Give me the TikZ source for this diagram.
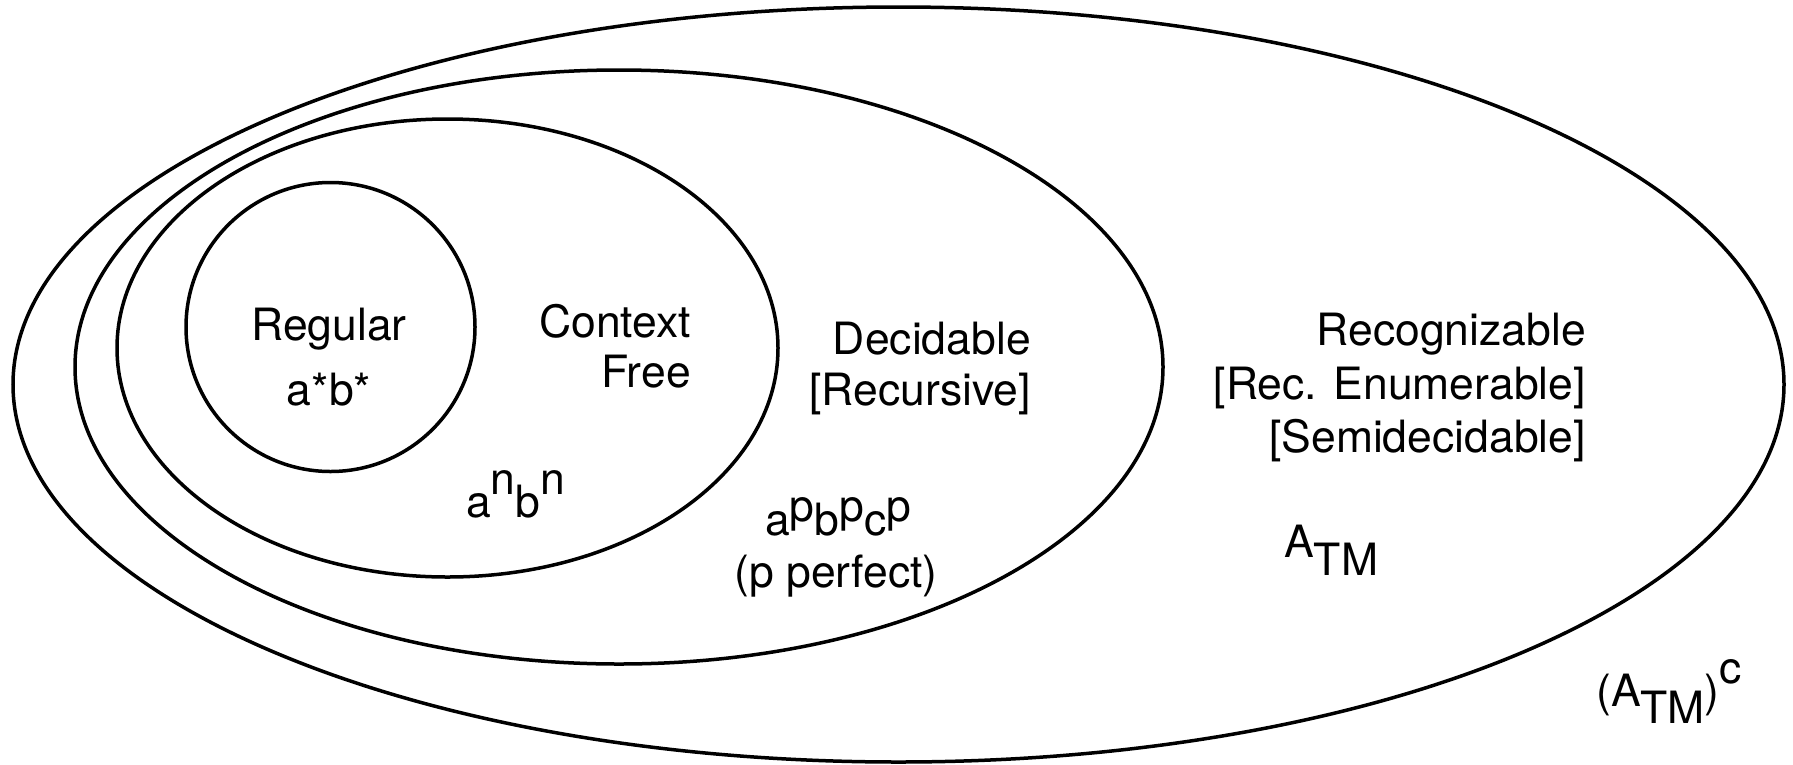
\documentclass[tikz,border=0pt]{standalone}
\usepackage{fontspec}
\setmainfont{TeX Gyre Heros}
\begin{document}
\begin{tikzpicture}[x=1pt,y=-1pt,
  setline/.style={line width=3.5pt},
  lbl/.style={inner sep=0pt,font=\fontsize{44.5}{52}\selectfont}]
\useasboundingbox (0,0) rectangle (1793,764);
% sets
\draw[setline] (898.5,384.5) ellipse [x radius=885.5, y radius=377.5];
\draw[setline] (619,367) ellipse [x radius=544, y radius=297];
\draw[setline] (447.5,348) ellipse [x radius=330.5, y radius=229];
\draw[setline] (330.5,327) circle [radius=144.5];
% labels
\node[lbl,anchor=base] (reg) at (329,340) {Regular};
\node[lbl,anchor=base] (reglang) at (329,405) {a*b*};
\node[lbl,anchor=base east] (cf1) at (691,337) {Context};
\node[lbl,anchor=base east] (cf2) at (691,387) {Free};
\node[lbl,anchor=base west] (cflang) at (466,517) {a\raisebox{23pt}{n}b\raisebox{23pt}{n}};
\node[lbl,anchor=base east] (dec1) at (1031,354) {Decidable};
\node[lbl,anchor=base east] (dec2) at (1031,405) {[Recursive]};
\node[lbl,anchor=base west] (declang) at (765,535) {a\raisebox{14pt}{p}b\raisebox{14pt}{p}c\raisebox{14pt}{p}};
\node[lbl,anchor=base] (declang2) at (836,587) {(p perfect)};
\node[lbl,anchor=base east] (rec1) at (1586,345) {Recognizable};
\node[lbl,anchor=base east] (rec2) at (1586,399) {[Rec. Enumerable]};
\node[lbl,anchor=base east] (rec3) at (1586,452) {[Semidecidable]};
\node[lbl,anchor=base west] (atm) at (1284,557) {A\raisebox{-18pt}{TM}};
\node[lbl,anchor=base west] (atmc) at (1596,706) {(A\raisebox{-17pt}{TM})\raisebox{23pt}{c}};
\end{tikzpicture}
\end{document}
